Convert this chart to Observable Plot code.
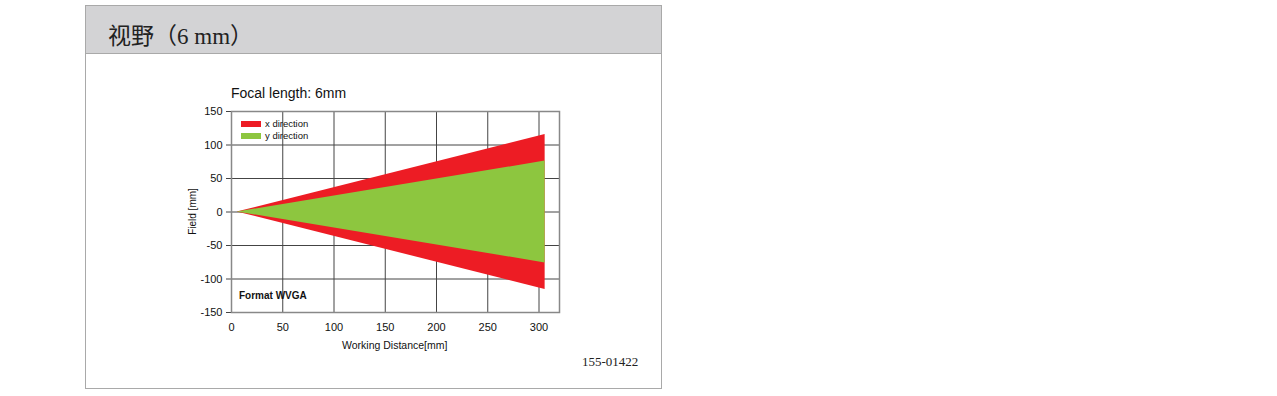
<!DOCTYPE html>
<html><head><meta charset="utf-8">
<script src="https://cdn.jsdelivr.net/npm/d3@7"></script>
<script src="https://cdn.jsdelivr.net/npm/@observablehq/plot@0.6"></script>
<style>
html,body{margin:0;padding:0;background:#fff;}
#page{position:relative;width:1277px;height:396px;overflow:hidden;font-family:"Liberation Sans",Arial,sans-serif;}
#box{position:absolute;left:85px;top:5px;width:575px;height:382px;border:1px solid #a9a9a9;}
#hdr{position:absolute;left:0;top:0;width:575px;height:47px;background:#d3d3d5;border-bottom:1px solid #a9a9a9;}
#hdr span{position:absolute;left:22px;top:11px;font-family:"Liberation Serif","Noto Sans CJK SC",serif;font-size:23px;color:#222;white-space:nowrap;}
.abs{position:absolute;white-space:nowrap;color:#111;}
#chart{position:absolute;left:0;top:0;}
</style></head>
<body><div id="page">
<div id="box"><div id="hdr"><span>视野（6 mm）</span></div></div>
<div id="chart"></div>
<div class="abs" style="left:231px;top:85px;font-size:14px;">Focal length: 6mm</div>
<div class="abs" style="left:241px;top:121px;width:20px;height:6px;background:#ed1c24;"></div>
<div class="abs" style="left:265px;top:118px;font-size:9.5px;">x direction</div>
<div class="abs" style="left:241px;top:133px;width:20px;height:6px;background:#8dc63f;"></div>
<div class="abs" style="left:265px;top:130px;font-size:9.5px;">y direction</div>
<div class="abs" style="left:239px;top:290px;font-size:10px;font-weight:bold;">Format WVGA</div>
<div class="abs" style="left:342px;top:339px;font-size:10.5px;">Working Distance[mm]</div>
<div class="abs" style="left:169px;top:206px;font-size:10px;transform:rotate(-90deg);transform-origin:center;">Field [mm]</div>
<div class="abs" style="left:582px;top:354px;font-size:13px;font-family:'Liberation Serif',serif;color:#222;">155-01422</div>
</div>
<script>
const distance = [5.5, 306];
const xHalfField = [0, 115.5];
const yHalfField = [0, 76];
const xTicks = [0, 50, 100, 150, 200, 250, 300];
const yTicks = [-150, -100, -50, 0, 50, 100, 150];

const rows = distance.map((d, i) => ({d, xh: xHalfField[i], yh: yHalfField[i]}));

const plot = Plot.plot({
  width: 662, height: 390,
  marginLeft: 231, marginRight: 103, marginTop: 111, marginBottom: 78,
  style: {background: "transparent", fontFamily: "Liberation Sans, Arial, sans-serif", fontSize: "11px", color: "#111"},
  x: {domain: [0, 320], label: null},
  y: {domain: [-150, 150], label: null},
  marks: [
    Plot.gridX(xTicks, {stroke: "#444", strokeOpacity: 1, strokeWidth: 1}),
    Plot.gridY(yTicks, {stroke: "#444", strokeOpacity: 1, strokeWidth: 1}),
    Plot.areaY(rows, {x: "d", y1: r => -r.xh, y2: r => r.xh, fill: "#ed1c24"}),
    Plot.areaY(rows, {x: "d", y1: r => -r.yh, y2: r => r.yh, fill: "#8dc63f"}),
    Plot.axisY({ticks: yTicks, tickSize: 5, tickPadding: 4, stroke: "#444", fontSize: 11, tickFormat: d => String(d)}),
    Plot.axisX({ticks: xTicks, tickSize: 0, tickPadding: 11, fontSize: 11, tickFormat: d => String(d)}),
    Plot.frame({stroke: "#888", strokeWidth: 1.5})
  ]
});
document.getElementById("chart").appendChild(plot);
</script>
</body></html>
